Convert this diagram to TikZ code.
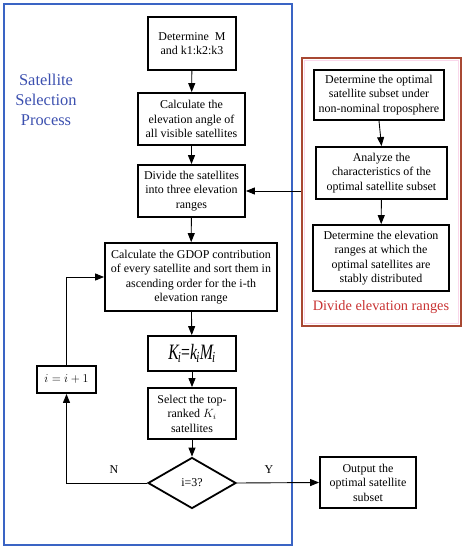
\documentclass[tikz,border=0pt]{standalone}
\usepackage{fontspec}
\setmainfont{Liberation Serif}
\usetikzlibrary{arrows.meta,shapes.geometric}
\definecolor{bluebox}{RGB}{58,100,196}
\definecolor{bluetext}{RGB}{60,80,175}
\definecolor{redbox}{RGB}{168,72,50}
\definecolor{redtext}{RGB}{200,50,50}
\definecolor{pinkin}{RGB}{250,215,235}
\begin{document}
\begin{tikzpicture}[x=1bp,y=-1bp,
  box/.style={draw=black,line width=1.8bp,rectangle,align=center,inner sep=0pt,
    font=\fontsize{12}{14.5}\selectfont},
  conn/.style={draw=black,line width=0.9bp,-{Triangle[length=9bp,width=7bp]}},
  lbl/.style={font=\fontsize{12}{14}\selectfont,inner sep=0pt}]
\useasboundingbox (0,0) rectangle (463,550);

% group frames
\node[draw=bluebox,line width=1.8bp,minimum width=288bp,minimum height=541bp,inner sep=0pt] (bbox) at (148,274.5) {};
\node[draw=pinkin,line width=1.5bp,minimum width=154bp,minimum height=263bp,inner sep=0pt] (rin) at (381.5,192) {};
\node[draw=redbox,line width=1.8bp,minimum width=159bp,minimum height=268bp,inner sep=0pt] (rbox) at (381.5,192) {};

\node[font=\fontsize{16.5}{20}\selectfont,text=bluetext,align=center,inner sep=0pt] (title) at (46,100) {Satellite\\Selection\\Process};
\node[font=\fontsize{14.4}{16}\selectfont,text=redtext,inner sep=0pt] (rtitle) at (381,307) {Divide elevation ranges};

% main column
\node[box,minimum width=88bp,minimum height=53bp] (n1) at (192,43.5) {Determine~~M\\and k1:k2:k3};
\node[box,minimum width=107bp,minimum height=52bp] (n2) at (191.5,119) {Calculate the\\elevation angle of\\all visible satellites};
\node[box,minimum width=107bp,minimum height=52bp] (n3) at (191.5,191) {Divide the satellites\\into three elevation\\ranges};
\node[box,minimum width=172bp,minimum height=68bp] (n4) at (191,277) {Calculate the GDOP contribution\\of every satellite and sort them in\\ascending order for the i-th\\elevation range};
\node[box,minimum width=88bp,minimum height=35bp] (n5) at (192,353.5) {\scalebox{0.72}[1]{\fontsize{22}{22}\selectfont\itshape K\kern-1.5pt\textsubscript{i}\upshape=\itshape k\kern-1pt\textsubscript{i}M\kern-1pt\textsubscript{i}}};
\node[box,minimum width=88bp,minimum height=51bp] (n6) at (192,413.5) {Select the top-\\ranked $K_i$\\satellites};
\node[draw=black,line width=1.8bp,diamond,minimum width=88bp,minimum height=51bp,inner sep=0pt,font=\fontsize{12}{14}\selectfont] (d) at (192,483) {i=3?};
\node[box,minimum width=59bp,minimum height=27bp] (n8) at (66.5,379.5) {$i=i+1$};
\node[box,minimum width=96bp,minimum height=51bp] (out) at (368,482.5) {Output the\\optimal satellite\\subset};

% right column
\node[box,minimum width=130bp,minimum height=50bp] (r1) at (379,95) {Determine the optimal\\satellite subset under\\non-nominal troposphere};
\node[box,minimum width=131bp,minimum height=52bp] (r2) at (381.5,173) {Analyze the\\characteristics of the\\optimal satellite subset};
\node[box,minimum width=136bp,minimum height=66bp] (r3) at (381,258) {Determine the elevation\\ranges at which the\\optimal satellites are\\stably distributed};

% connectors
\draw[conn] (n1) -- (n2);
\draw[conn] (n2) -- (n3);
\draw[conn] (n3) -- (n4);
\draw[conn] (n4) -- (n5);
\draw[conn] (n5) -- (n6);
\draw[conn] (n6) -- (d);
\draw[conn] (d.west) -| (n8.south);
\draw[conn] (n8.north) |- (n4.west);
\draw[conn] (d.east) -- (out.west);
\draw[conn] (r1.south) -- (r2.north);
\draw[conn] (r2) -- (r3);
\draw[conn] (n3.east -| rbox.west) -- (n3.east);

\node[lbl] (nlab) at (114,470) {N};
\node[lbl] (ylab) at (269,470) {Y};
\end{tikzpicture}
\end{document}
